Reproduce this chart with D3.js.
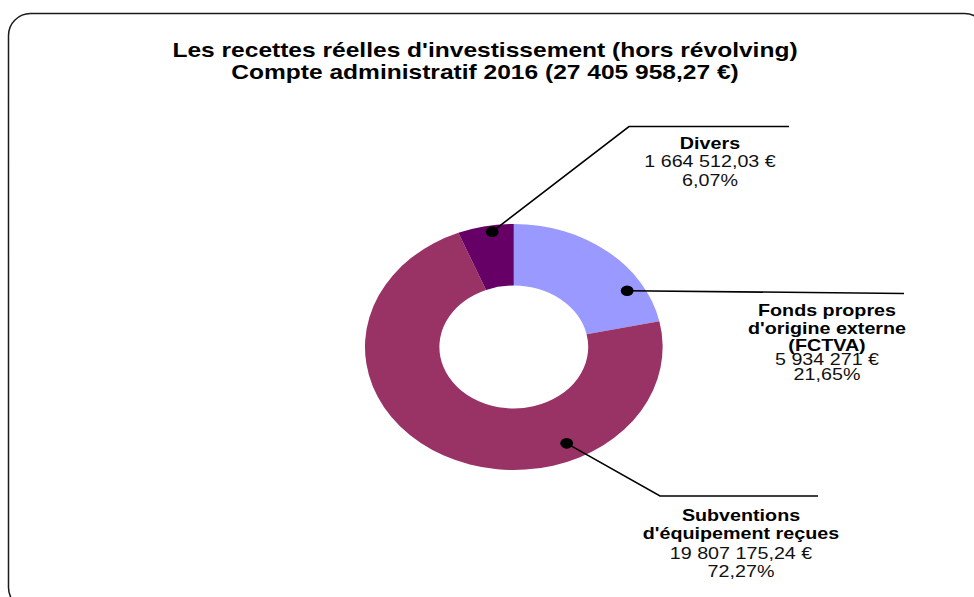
<!DOCTYPE html>
<html lang="fr">
<head>
<meta charset="utf-8">
<script src="https://cdn.jsdelivr.net/npm/d3@7"></script>
<style>
  html, body { margin: 0; padding: 0; background: #fff; }
  svg { display: block; font-family: "Liberation Sans", Arial, sans-serif; }
</style>
</head>
<body>
<svg id="chart" width="974" height="597"></svg>
<script>
// Recettes réelles d'investissement 2016, by origin
const categories = [
  "Fonds propres d'origine externe (FCTVA)",
  "Subventions d'équipement reçues",
  "Divers"
];
const labelLines = [
  ["Fonds propres", "d'origine externe", "(FCTVA)"],
  ["Subventions", "d'équipement reçues"],
  ["Divers"]
];
const values = [5934271, 19807175.24, 1664512.03];
const colors = ["#9999FF", "#993366", "#660066"];
const titleLines = [
  "Les recettes réelles d'investissement (hors révolving)",
  "Compte administratif 2016 (27 405 958,27 €)"
];

// French number formatting
const fr = d3.formatLocale({ decimal: ",", thousands: " ", grouping: [3], currency: ["", " €"] });
const fmtAmount = v => (Number.isInteger(v) ? fr.format(",d")(v) : fr.format(",.2f")(v)) + " €";
const fmtPct = fr.format(".2%");

// Layout
const W = 974, H = 597;
const sx = 1.21;                  // horizontal stretch of the whole drawing
const cx = 513.8, cy = 347;
const outerR = 123, innerR = 61.5;

// Leader-line geometry for each slice: anchor angle (deg, clockwise from top),
// anchor radius, and polyline points ending under the label
const leaders = [
  { angle: 59, r: 109.3, pts: [[904, 293.5]],           lx: 827, ly: [316, 333.5, 350.5, 365, 380] },
  { angle: 155.6, r: 105.8, pts: [[660, 496], [818, 496]], lx: 741, ly: [520.5, 539, 559, 577] },
  { angle: 351.2, r: 116.7, pts: [[629, 126.5], [789, 126.5]], lx: 710, ly: [149, 167, 185.5] }
];

const svg = d3.select("#chart");

// Frame with rounded corners
svg.append("rect")
  .attr("x", 8.5).attr("y", 13.5)
  .attr("width", 978).attr("height", 596)
  .attr("rx", 22).attr("ry", 22)
  .attr("fill", "none")
  .attr("stroke", "#1a1a1a")
  .attr("stroke-width", 1.5);

function stretchedText(parent, x, y, str, size, weight) {
  return parent.append("text")
    .attr("transform", `translate(${x},${y}) scale(${sx},1)`)
    .attr("text-anchor", "middle")
    .attr("font-size", size)
    .attr("font-weight", weight)
    .attr("fill", "#000")
    .text(str);
}

// Title
const titleY = [56.5, 78.5];
titleLines.forEach((t, i) => stretchedText(svg, 485, titleY[i], t, 20.3, "bold"));

// Donut
const total = d3.sum(values);
const pie = d3.pie().sort(null).value(d => d)(values);
const arc = d3.arc().innerRadius(innerR).outerRadius(outerR);

const donut = svg.append("g")
  .attr("transform", `translate(${cx},${cy}) scale(${sx},1)`);

donut.selectAll("path.slice")
  .data(pie)
  .join("path")
  .attr("class", "slice")
  .attr("d", arc)
  .attr("fill", (d, i) => colors[i]);

// Anchor dots
const anchorPos = l => {
  const a = l.angle * Math.PI / 180;
  return [l.r * Math.sin(a), -l.r * Math.cos(a)];
};

donut.selectAll("circle.anchor")
  .data(leaders)
  .join("circle")
  .attr("class", "anchor")
  .attr("cx", d => anchorPos(d)[0])
  .attr("cy", d => anchorPos(d)[1])
  .attr("r", 5.3)
  .attr("fill", "#000");

// Leader lines (screen coordinates)
const line = d3.line();
leaders.forEach(l => {
  const p = anchorPos(l);
  const start = [cx + p[0] * sx, cy + p[1]];
  svg.append("path")
    .attr("d", line([start, ...l.pts]))
    .attr("fill", "none")
    .attr("stroke", "#000")
    .attr("stroke-width", 1.6);
});

// Labels: bold category name, then amount and share
leaders.forEach((l, i) => {
  const lines = labelLines[i];
  lines.forEach((t, j) => stretchedText(svg, l.lx, l.ly[j], t, 16.3, "bold"));
  stretchedText(svg, l.lx, l.ly[lines.length], fmtAmount(values[i]), 16.3, "normal").attr("fill", "#111");
  stretchedText(svg, l.lx, l.ly[lines.length + 1], fmtPct(values[i] / total), 16.3, "normal").attr("fill", "#111");
});
</script>
</body>
</html>
